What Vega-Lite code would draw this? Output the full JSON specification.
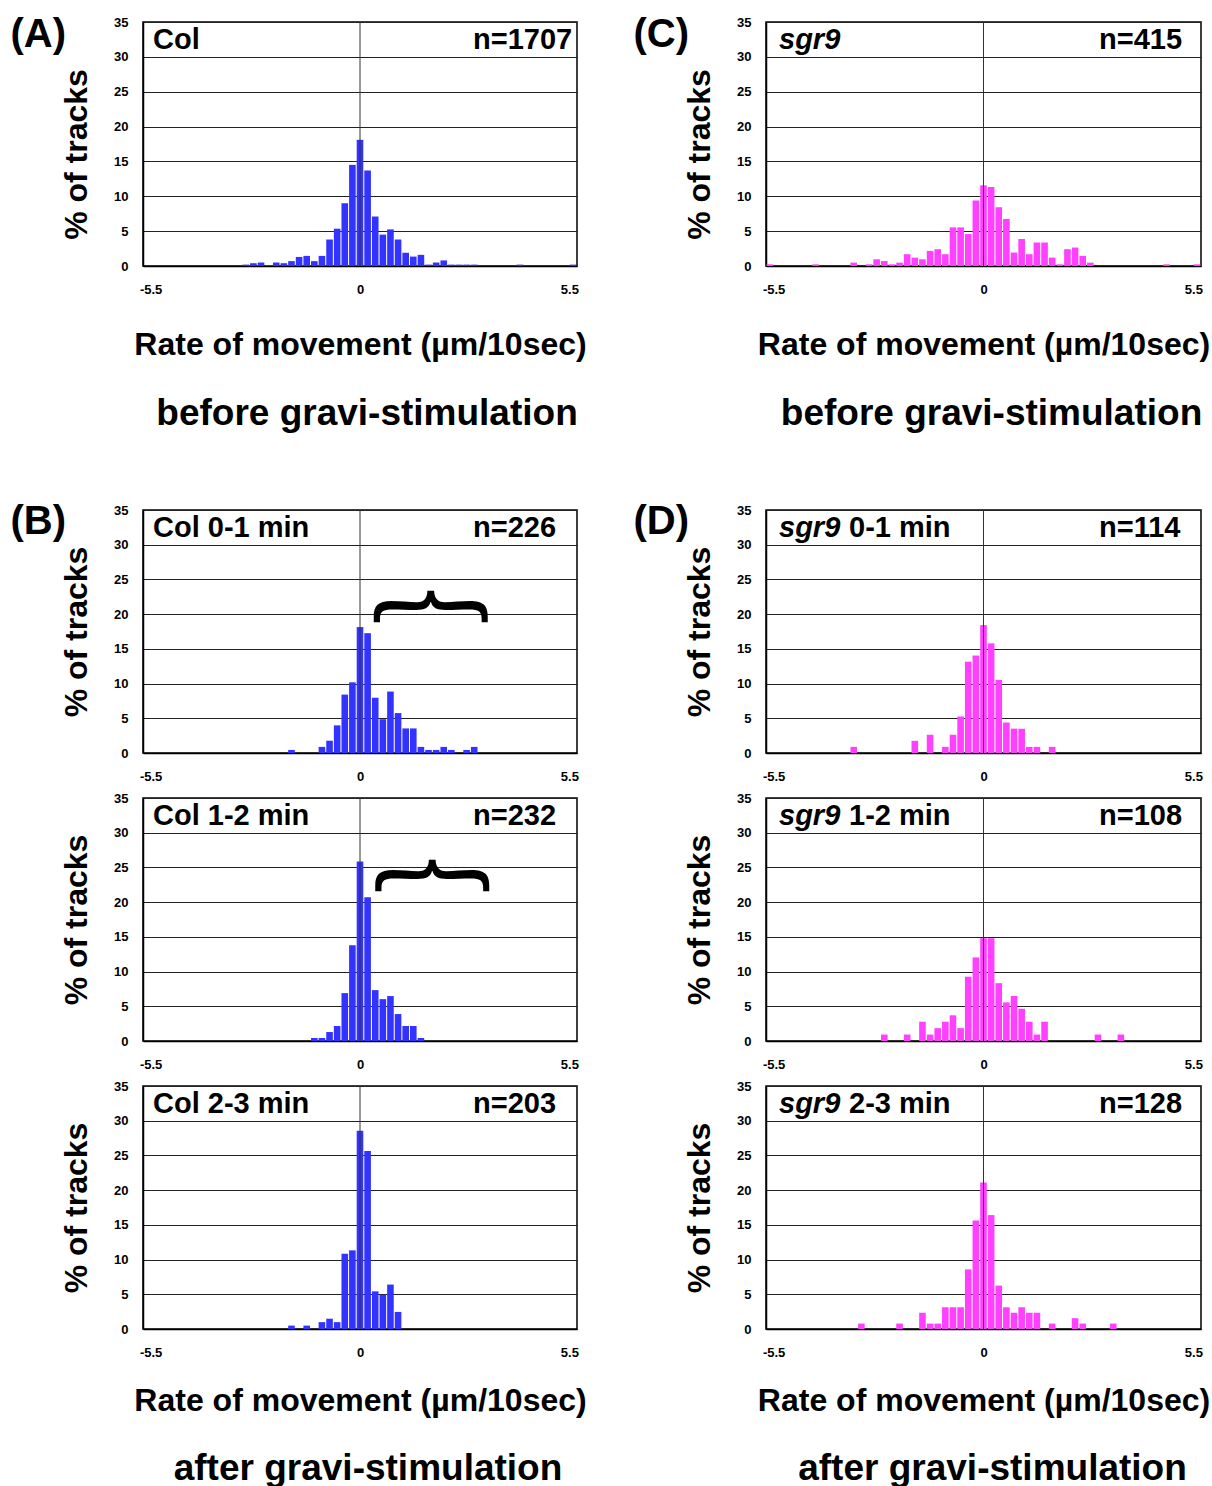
{
  "$schema": "https://vega.github.io/schema/vega-lite/v6.json",
  "padding": {"left": 9, "top": 14, "right": 5, "bottom": 5},
  "background": "white",
  "datasets": {
    "hist": [
      {"panel":"A","x":-3.0,"pct":0.2},{"panel":"A","x":-2.8,"pct":0.4},{"panel":"A","x":-2.6,"pct":0.5},{"panel":"A","x":-2.4,"pct":0.1},{"panel":"A","x":-2.2,"pct":0.5},{"panel":"A","x":-2.0,"pct":0.4},{"panel":"A","x":-1.8,"pct":0.7},{"panel":"A","x":-1.6,"pct":1.3},{"panel":"A","x":-1.4,"pct":1.45},{"panel":"A","x":-1.2,"pct":0.7},{"panel":"A","x":-1.0,"pct":1.45},{"panel":"A","x":-0.8,"pct":3.8},{"panel":"A","x":-0.6,"pct":5.35},{"panel":"A","x":-0.4,"pct":9.0},{"panel":"A","x":-0.2,"pct":14.5},{"panel":"A","x":0,"pct":18.1},{"panel":"A","x":0.2,"pct":13.7},{"panel":"A","x":0.4,"pct":7.1},{"panel":"A","x":0.6,"pct":4.5},{"panel":"A","x":0.8,"pct":5.25},{"panel":"A","x":1.0,"pct":3.8},{"panel":"A","x":1.2,"pct":1.9},{"panel":"A","x":1.4,"pct":1.35},{"panel":"A","x":1.6,"pct":1.6},{"panel":"A","x":1.8,"pct":0.2},{"panel":"A","x":2.0,"pct":0.5},{"panel":"A","x":2.2,"pct":0.8},{"panel":"A","x":2.4,"pct":0.2},{"panel":"A","x":2.6,"pct":0.2},{"panel":"A","x":2.8,"pct":0.2},{"panel":"A","x":3.0,"pct":0.2},{"panel":"A","x":4.2,"pct":0.2},{"panel":"A","x":5.6,"pct":0.2},
      {"panel":"C","x":-5.6,"pct":0.24},{"panel":"C","x":-4.4,"pct":0.24},{"panel":"C","x":-3.4,"pct":0.48},{"panel":"C","x":-3.0,"pct":0.24},{"panel":"C","x":-2.8,"pct":0.96},{"panel":"C","x":-2.6,"pct":0.72},{"panel":"C","x":-2.4,"pct":0.24},{"panel":"C","x":-2.2,"pct":0.48},{"panel":"C","x":-2.0,"pct":1.69},{"panel":"C","x":-1.8,"pct":1.2},{"panel":"C","x":-1.6,"pct":0.96},{"panel":"C","x":-1.4,"pct":2.17},{"panel":"C","x":-1.2,"pct":2.41},{"panel":"C","x":-1.0,"pct":1.69},{"panel":"C","x":-0.8,"pct":5.54},{"panel":"C","x":-0.6,"pct":5.54},{"panel":"C","x":-0.4,"pct":4.58},{"panel":"C","x":-0.2,"pct":9.4},{"panel":"C","x":0,"pct":11.57},{"panel":"C","x":0.2,"pct":11.33},{"panel":"C","x":0.4,"pct":8.43},{"panel":"C","x":0.6,"pct":6.75},{"panel":"C","x":0.8,"pct":1.93},{"panel":"C","x":1.0,"pct":3.86},{"panel":"C","x":1.2,"pct":1.69},{"panel":"C","x":1.4,"pct":3.37},{"panel":"C","x":1.6,"pct":3.37},{"panel":"C","x":1.8,"pct":1.2},{"panel":"C","x":2.0,"pct":0.24},{"panel":"C","x":2.2,"pct":2.41},{"panel":"C","x":2.4,"pct":2.65},{"panel":"C","x":2.6,"pct":1.45},{"panel":"C","x":2.8,"pct":0.48},{"panel":"C","x":4.8,"pct":0.24},{"panel":"C","x":5.6,"pct":0.24},
      {"panel":"B1","x":-1.8,"pct":0.44},{"panel":"B1","x":-1.0,"pct":0.88},{"panel":"B1","x":-0.8,"pct":1.77},{"panel":"B1","x":-0.6,"pct":3.98},{"panel":"B1","x":-0.4,"pct":8.41},{"panel":"B1","x":-0.2,"pct":10.18},{"panel":"B1","x":0,"pct":18.14},{"panel":"B1","x":0.2,"pct":17.26},{"panel":"B1","x":0.4,"pct":7.96},{"panel":"B1","x":0.6,"pct":4.87},{"panel":"B1","x":0.8,"pct":8.85},{"panel":"B1","x":1.0,"pct":5.75},{"panel":"B1","x":1.2,"pct":3.54},{"panel":"B1","x":1.4,"pct":3.54},{"panel":"B1","x":1.6,"pct":0.88},{"panel":"B1","x":1.8,"pct":0.44},{"panel":"B1","x":2.0,"pct":0.44},{"panel":"B1","x":2.2,"pct":0.88},{"panel":"B1","x":2.4,"pct":0.44},{"panel":"B1","x":2.8,"pct":0.44},{"panel":"B1","x":3.0,"pct":0.88},
      {"panel":"B2","x":-1.2,"pct":0.43},{"panel":"B2","x":-1.0,"pct":0.43},{"panel":"B2","x":-0.8,"pct":1.29},{"panel":"B2","x":-0.6,"pct":2.16},{"panel":"B2","x":-0.4,"pct":6.9},{"panel":"B2","x":-0.2,"pct":13.79},{"panel":"B2","x":0,"pct":25.86},{"panel":"B2","x":0.2,"pct":20.69},{"panel":"B2","x":0.4,"pct":7.33},{"panel":"B2","x":0.6,"pct":6.03},{"panel":"B2","x":0.8,"pct":6.47},{"panel":"B2","x":1.0,"pct":3.88},{"panel":"B2","x":1.2,"pct":2.16},{"panel":"B2","x":1.4,"pct":2.16},{"panel":"B2","x":1.6,"pct":0.43},
      {"panel":"B3","x":-1.8,"pct":0.49},{"panel":"B3","x":-1.4,"pct":0.49},{"panel":"B3","x":-1.0,"pct":0.99},{"panel":"B3","x":-0.8,"pct":1.48},{"panel":"B3","x":-0.6,"pct":0.99},{"panel":"B3","x":-0.4,"pct":10.84},{"panel":"B3","x":-0.2,"pct":11.33},{"panel":"B3","x":0,"pct":28.57},{"panel":"B3","x":0.2,"pct":25.62},{"panel":"B3","x":0.4,"pct":5.42},{"panel":"B3","x":0.6,"pct":4.93},{"panel":"B3","x":0.8,"pct":6.4},{"panel":"B3","x":1.0,"pct":2.46},
      {"panel":"D1","x":-3.4,"pct":0.88},{"panel":"D1","x":-1.8,"pct":1.75},{"panel":"D1","x":-1.4,"pct":2.63},{"panel":"D1","x":-1.0,"pct":0.88},{"panel":"D1","x":-0.8,"pct":2.63},{"panel":"D1","x":-0.6,"pct":5.26},{"panel":"D1","x":-0.4,"pct":13.16},{"panel":"D1","x":-0.2,"pct":14.04},{"panel":"D1","x":0,"pct":18.42},{"panel":"D1","x":0.2,"pct":15.79},{"panel":"D1","x":0.4,"pct":10.53},{"panel":"D1","x":0.6,"pct":4.39},{"panel":"D1","x":0.8,"pct":3.51},{"panel":"D1","x":1.0,"pct":3.51},{"panel":"D1","x":1.2,"pct":0.88},{"panel":"D1","x":1.4,"pct":0.88},{"panel":"D1","x":1.8,"pct":0.88},
      {"panel":"D2","x":-2.6,"pct":0.93},{"panel":"D2","x":-2.0,"pct":0.93},{"panel":"D2","x":-1.6,"pct":2.78},{"panel":"D2","x":-1.4,"pct":0.93},{"panel":"D2","x":-1.2,"pct":1.85},{"panel":"D2","x":-1.0,"pct":2.78},{"panel":"D2","x":-0.8,"pct":3.7},{"panel":"D2","x":-0.6,"pct":1.85},{"panel":"D2","x":-0.4,"pct":9.26},{"panel":"D2","x":-0.2,"pct":12.04},{"panel":"D2","x":0,"pct":14.81},{"panel":"D2","x":0.2,"pct":14.81},{"panel":"D2","x":0.4,"pct":8.33},{"panel":"D2","x":0.6,"pct":5.56},{"panel":"D2","x":0.8,"pct":6.48},{"panel":"D2","x":1.0,"pct":4.63},{"panel":"D2","x":1.2,"pct":2.78},{"panel":"D2","x":1.4,"pct":0.93},{"panel":"D2","x":1.6,"pct":2.78},{"panel":"D2","x":3.0,"pct":0.93},{"panel":"D2","x":3.6,"pct":0.93},
      {"panel":"D3","x":-3.2,"pct":0.78},{"panel":"D3","x":-2.2,"pct":0.78},{"panel":"D3","x":-1.6,"pct":2.34},{"panel":"D3","x":-1.4,"pct":0.78},{"panel":"D3","x":-1.2,"pct":0.78},{"panel":"D3","x":-1.0,"pct":3.13},{"panel":"D3","x":-0.8,"pct":3.13},{"panel":"D3","x":-0.6,"pct":3.13},{"panel":"D3","x":-0.4,"pct":8.59},{"panel":"D3","x":-0.2,"pct":15.63},{"panel":"D3","x":0,"pct":21.09},{"panel":"D3","x":0.2,"pct":16.41},{"panel":"D3","x":0.4,"pct":6.25},{"panel":"D3","x":0.6,"pct":3.13},{"panel":"D3","x":0.8,"pct":2.34},{"panel":"D3","x":1.0,"pct":3.13},{"panel":"D3","x":1.2,"pct":2.34},{"panel":"D3","x":1.4,"pct":2.34},{"panel":"D3","x":1.8,"pct":0.78},{"panel":"D3","x":2.4,"pct":1.56},{"panel":"D3","x":2.6,"pct":0.78},{"panel":"D3","x":3.4,"pct":0.78}
    ]
  },
  "columns": 2,
  "spacing": {"row": 45, "column": 189},
  "bounds": "flush",
  "concat": [
    {
      "width": 434, "height": 244,
      "title": {"text": "(A)", "orient": "top", "anchor": "start", "frame": "bounds", "fontSize": 40, "dx": -50, "offset": -39},
      "layer": [
        {"data": {"name": "hist"}, "transform": [{"filter": "datum.panel === 'A'"}],
         "mark": {"type": "bar", "size": 6.6, "color": "#3333ff"},
         "encoding": {
           "x": {"field": "x", "type": "quantitative", "scale": {"domain": [-5.7, 5.7], "nice": false, "zero": false, "padding": 0}, "axis": {"values": [-5.5, 0, 5.5], "format": ".2~f", "title": "Rate of movement (µm/10sec)", "titlePadding": 33}},
           "y": {"field": "pct", "type": "quantitative", "scale": {"domain": [0, 35], "nice": false, "padding": 0}, "axis": {"values": [0,5,10,15,20,25,30,35], "tickCount": 8, "title": "% of tracks", "titleY": 132}}
         }},
        {"data": {"values": [{}]}, "mark": {"type": "rule", "color": "#333333", "strokeWidth": 1}, "encoding": {"x": {"datum": 0}}},
        {"data": {"values": [{}]}, "mark": {"type": "text", "text": "Col", "align": "left", "baseline": "middle", "dx": 10, "dy": 18, "fontSize": 29, "fontWeight": "bold"}, "encoding": {"x": {"datum": -5.7}, "y": {"datum": 35}}},
        {"data": {"values": [{}]}, "mark": {"type": "text", "text": "n=1707", "align": "left", "baseline": "middle", "dx": 330, "dy": 18, "fontSize": 29, "fontWeight": "bold"}, "encoding": {"x": {"datum": -5.7}, "y": {"datum": 35}}}
      ]
    },
    {
      "width": 435, "height": 244,
      "title": {"text": "(C)", "orient": "top", "anchor": "start", "frame": "bounds", "fontSize": 40, "dx": -50, "offset": -39},
      "layer": [
        {"data": {"name": "hist"}, "transform": [{"filter": "datum.panel === 'C'"}],
         "mark": {"type": "bar", "size": 6.6, "color": "#ff40ff"},
         "encoding": {
           "x": {"field": "x", "type": "quantitative", "scale": {"domain": [-5.7, 5.7], "nice": false, "zero": false, "padding": 0}, "axis": {"values": [-5.5, 0, 5.5], "format": ".2~f", "title": "Rate of movement (µm/10sec)", "titlePadding": 33}},
           "y": {"field": "pct", "type": "quantitative", "scale": {"domain": [0, 35], "nice": false, "padding": 0}, "axis": {"values": [0,5,10,15,20,25,30,35], "tickCount": 8, "title": "% of tracks", "titleY": 132}}
         }},
        {"data": {"values": [{}]}, "mark": {"type": "rule", "color": "#333333", "strokeWidth": 1}, "encoding": {"x": {"datum": 0}}},
        {"data": {"values": [{}]}, "mark": {"type": "text", "text": "sgr9", "align": "left", "baseline": "middle", "dx": 13, "dy": 18, "fontSize": 29, "fontWeight": "bold", "fontStyle": "italic"}, "encoding": {"x": {"datum": -5.7}, "y": {"datum": 35}}},
        {"data": {"values": [{}]}, "mark": {"type": "text", "text": "n=415", "align": "left", "baseline": "middle", "dx": 333, "dy": 18, "fontSize": 29, "fontWeight": "bold"}, "encoding": {"x": {"datum": -5.7}, "y": {"datum": 35}}}
      ]
    },
    {
      "width": 434, "height": 154,
      "view": {"stroke": null, "fill": "transparent"},
      "title": {"text": "before gravi-stimulation", "orient": "top", "anchor": "middle", "frame": "group", "fontSize": 37, "offset": -122, "dx": 7},
      "data": {"values": [{}]},
      "mark": {"type": "text", "text": ""},
      "encoding": {}
    },
    {
      "width": 435, "height": 154,
      "view": {"stroke": null, "fill": "transparent"},
      "title": {"text": "before gravi-stimulation", "orient": "top", "anchor": "middle", "frame": "group", "fontSize": 37, "offset": -122, "dx": 8},
      "data": {"values": [{}]},
      "mark": {"type": "text", "text": ""},
      "encoding": {}
    },
    {
      "width": 434, "height": 243,
      "title": {"text": "(B)", "orient": "top", "anchor": "start", "frame": "bounds", "fontSize": 40, "dx": -50, "offset": -38},
      "layer": [
        {"data": {"name": "hist"}, "transform": [{"filter": "datum.panel === 'B1'"}],
         "mark": {"type": "bar", "size": 6.6, "color": "#3333ff"},
         "encoding": {
           "x": {"field": "x", "type": "quantitative", "scale": {"domain": [-5.7, 5.7], "nice": false, "zero": false, "padding": 0}, "axis": {"values": [-5.5, 0, 5.5], "format": ".2~f", "title": null}},
           "y": {"field": "pct", "type": "quantitative", "scale": {"domain": [0, 35], "nice": false, "padding": 0}, "axis": {"values": [0,5,10,15,20,25,30,35], "tickCount": 8, "title": "% of tracks"}}
         }},
        {"data": {"values": [{}]}, "mark": {"type": "rule", "color": "#333333", "strokeWidth": 1}, "encoding": {"x": {"datum": 0}}},
        {"data": {"values": [{}]}, "mark": {"type": "text", "text": "Col 0-1 min", "align": "left", "baseline": "middle", "dx": 10, "dy": 18, "fontSize": 29, "fontWeight": "bold"}, "encoding": {"x": {"datum": -5.7}, "y": {"datum": 35}}},
        {"data": {"values": [{}]}, "mark": {"type": "text", "text": "n=226", "align": "left", "baseline": "middle", "dx": 330, "dy": 18, "fontSize": 29, "fontWeight": "bold"}, "encoding": {"x": {"datum": -5.7}, "y": {"datum": 35}}},
        {"data": {"values": [{}]}, "mark": {"type": "text", "text": "︷", "align": "center", "baseline": "middle", "fontSize": 120, "font": "Noto Sans CJK JP"}, "encoding": {"x": {"datum": 1.86}, "y": {"datum": 25.5}}}
      ]
    },
    {
      "width": 435, "height": 243,
      "title": {"text": "(D)", "orient": "top", "anchor": "start", "frame": "bounds", "fontSize": 40, "dx": -50, "offset": -38},
      "layer": [
        {"data": {"name": "hist"}, "transform": [{"filter": "datum.panel === 'D1'"}],
         "mark": {"type": "bar", "size": 6.6, "color": "#ff40ff"},
         "encoding": {
           "x": {"field": "x", "type": "quantitative", "scale": {"domain": [-5.7, 5.7], "nice": false, "zero": false, "padding": 0}, "axis": {"values": [-5.5, 0, 5.5], "format": ".2~f", "title": null}},
           "y": {"field": "pct", "type": "quantitative", "scale": {"domain": [0, 35], "nice": false, "padding": 0}, "axis": {"values": [0,5,10,15,20,25,30,35], "tickCount": 8, "title": "% of tracks"}}
         }},
        {"data": {"values": [{}]}, "mark": {"type": "rule", "color": "#333333", "strokeWidth": 1}, "encoding": {"x": {"datum": 0}}},
        {"data": {"values": [{}]}, "mark": {"type": "text", "text": "sgr9", "align": "left", "baseline": "middle", "dx": 13, "dy": 18, "fontSize": 29, "fontWeight": "bold", "fontStyle": "italic"}, "encoding": {"x": {"datum": -5.7}, "y": {"datum": 35}}},
        {"data": {"values": [{}]}, "mark": {"type": "text", "text": "0-1 min", "align": "left", "baseline": "middle", "dx": 83, "dy": 18, "fontSize": 29, "fontWeight": "bold"}, "encoding": {"x": {"datum": -5.7}, "y": {"datum": 35}}},
        {"data": {"values": [{}]}, "mark": {"type": "text", "text": "n=114", "align": "left", "baseline": "middle", "dx": 333, "dy": 18, "fontSize": 29, "fontWeight": "bold"}, "encoding": {"x": {"datum": -5.7}, "y": {"datum": 35}}}
      ]
    },
    {
      "width": 434, "height": 243,
      "layer": [
        {"data": {"name": "hist"}, "transform": [{"filter": "datum.panel === 'B2'"}],
         "mark": {"type": "bar", "size": 6.6, "color": "#3333ff"},
         "encoding": {
           "x": {"field": "x", "type": "quantitative", "scale": {"domain": [-5.7, 5.7], "nice": false, "zero": false, "padding": 0}, "axis": {"values": [-5.5, 0, 5.5], "format": ".2~f", "title": null}},
           "y": {"field": "pct", "type": "quantitative", "scale": {"domain": [0, 35], "nice": false, "padding": 0}, "axis": {"values": [0,5,10,15,20,25,30,35], "tickCount": 8, "title": "% of tracks"}}
         }},
        {"data": {"values": [{}]}, "mark": {"type": "rule", "color": "#333333", "strokeWidth": 1}, "encoding": {"x": {"datum": 0}}},
        {"data": {"values": [{}]}, "mark": {"type": "text", "text": "Col 1-2 min", "align": "left", "baseline": "middle", "dx": 10, "dy": 18, "fontSize": 29, "fontWeight": "bold"}, "encoding": {"x": {"datum": -5.7}, "y": {"datum": 35}}},
        {"data": {"values": [{}]}, "mark": {"type": "text", "text": "n=232", "align": "left", "baseline": "middle", "dx": 330, "dy": 18, "fontSize": 29, "fontWeight": "bold"}, "encoding": {"x": {"datum": -5.7}, "y": {"datum": 35}}},
        {"data": {"values": [{}]}, "mark": {"type": "text", "text": "︷", "align": "center", "baseline": "middle", "fontSize": 120, "font": "Noto Sans CJK JP"}, "encoding": {"x": {"datum": 1.9}, "y": {"datum": 28.2}}}
      ]
    },
    {
      "width": 435, "height": 243,
      "layer": [
        {"data": {"name": "hist"}, "transform": [{"filter": "datum.panel === 'D2'"}],
         "mark": {"type": "bar", "size": 6.6, "color": "#ff40ff"},
         "encoding": {
           "x": {"field": "x", "type": "quantitative", "scale": {"domain": [-5.7, 5.7], "nice": false, "zero": false, "padding": 0}, "axis": {"values": [-5.5, 0, 5.5], "format": ".2~f", "title": null}},
           "y": {"field": "pct", "type": "quantitative", "scale": {"domain": [0, 35], "nice": false, "padding": 0}, "axis": {"values": [0,5,10,15,20,25,30,35], "tickCount": 8, "title": "% of tracks"}}
         }},
        {"data": {"values": [{}]}, "mark": {"type": "rule", "color": "#333333", "strokeWidth": 1}, "encoding": {"x": {"datum": 0}}},
        {"data": {"values": [{}]}, "mark": {"type": "text", "text": "sgr9", "align": "left", "baseline": "middle", "dx": 13, "dy": 18, "fontSize": 29, "fontWeight": "bold", "fontStyle": "italic"}, "encoding": {"x": {"datum": -5.7}, "y": {"datum": 35}}},
        {"data": {"values": [{}]}, "mark": {"type": "text", "text": "1-2 min", "align": "left", "baseline": "middle", "dx": 83, "dy": 18, "fontSize": 29, "fontWeight": "bold"}, "encoding": {"x": {"datum": -5.7}, "y": {"datum": 35}}},
        {"data": {"values": [{}]}, "mark": {"type": "text", "text": "n=108", "align": "left", "baseline": "middle", "dx": 333, "dy": 18, "fontSize": 29, "fontWeight": "bold"}, "encoding": {"x": {"datum": -5.7}, "y": {"datum": 35}}}
      ]
    },
    {
      "width": 434, "height": 243,
      "title": {"text": "after gravi-stimulation", "orient": "bottom", "anchor": "middle", "frame": "group", "fontSize": 37, "offset": 35, "dx": 8},
      "layer": [
        {"data": {"name": "hist"}, "transform": [{"filter": "datum.panel === 'B3'"}],
         "mark": {"type": "bar", "size": 6.6, "color": "#3333ff"},
         "encoding": {
           "x": {"field": "x", "type": "quantitative", "scale": {"domain": [-5.7, 5.7], "nice": false, "zero": false, "padding": 0}, "axis": {"values": [-5.5, 0, 5.5], "format": ".2~f", "title": "Rate of movement (µm/10sec)", "titlePadding": 26}},
           "y": {"field": "pct", "type": "quantitative", "scale": {"domain": [0, 35], "nice": false, "padding": 0}, "axis": {"values": [0,5,10,15,20,25,30,35], "tickCount": 8, "title": "% of tracks"}}
         }},
        {"data": {"values": [{}]}, "mark": {"type": "rule", "color": "#333333", "strokeWidth": 1}, "encoding": {"x": {"datum": 0}}},
        {"data": {"values": [{}]}, "mark": {"type": "text", "text": "Col 2-3 min", "align": "left", "baseline": "middle", "dx": 10, "dy": 18, "fontSize": 29, "fontWeight": "bold"}, "encoding": {"x": {"datum": -5.7}, "y": {"datum": 35}}},
        {"data": {"values": [{}]}, "mark": {"type": "text", "text": "n=203", "align": "left", "baseline": "middle", "dx": 330, "dy": 18, "fontSize": 29, "fontWeight": "bold"}, "encoding": {"x": {"datum": -5.7}, "y": {"datum": 35}}}
      ]
    },
    {
      "width": 435, "height": 243,
      "title": {"text": "after gravi-stimulation", "orient": "bottom", "anchor": "middle", "frame": "group", "fontSize": 37, "offset": 35, "dx": 9},
      "layer": [
        {"data": {"name": "hist"}, "transform": [{"filter": "datum.panel === 'D3'"}],
         "mark": {"type": "bar", "size": 6.6, "color": "#ff40ff"},
         "encoding": {
           "x": {"field": "x", "type": "quantitative", "scale": {"domain": [-5.7, 5.7], "nice": false, "zero": false, "padding": 0}, "axis": {"values": [-5.5, 0, 5.5], "format": ".2~f", "title": "Rate of movement (µm/10sec)", "titlePadding": 26}},
           "y": {"field": "pct", "type": "quantitative", "scale": {"domain": [0, 35], "nice": false, "padding": 0}, "axis": {"values": [0,5,10,15,20,25,30,35], "tickCount": 8, "title": "% of tracks"}}
         }},
        {"data": {"values": [{}]}, "mark": {"type": "rule", "color": "#333333", "strokeWidth": 1}, "encoding": {"x": {"datum": 0}}},
        {"data": {"values": [{}]}, "mark": {"type": "text", "text": "sgr9", "align": "left", "baseline": "middle", "dx": 13, "dy": 18, "fontSize": 29, "fontWeight": "bold", "fontStyle": "italic"}, "encoding": {"x": {"datum": -5.7}, "y": {"datum": 35}}},
        {"data": {"values": [{}]}, "mark": {"type": "text", "text": "2-3 min", "align": "left", "baseline": "middle", "dx": 83, "dy": 18, "fontSize": 29, "fontWeight": "bold"}, "encoding": {"x": {"datum": -5.7}, "y": {"datum": 35}}},
        {"data": {"values": [{}]}, "mark": {"type": "text", "text": "n=128", "align": "left", "baseline": "middle", "dx": 333, "dy": 18, "fontSize": 29, "fontWeight": "bold"}, "encoding": {"x": {"datum": -5.7}, "y": {"datum": 35}}}
      ]
    }
  ],
  "config": {
    "font": "Liberation Sans",
    "view": {"stroke": "black", "strokeWidth": 1.5},
    "text": {"color": "black", "font": "Liberation Sans"},
    "title": {"font": "Liberation Sans", "fontWeight": "bold", "color": "black"},
    "axis": {"labelFont": "Liberation Sans", "labelFontWeight": "bold", "labelFontSize": 13, "labelColor": "black", "ticks": false, "tickSize": 0, "domainColor": "black", "domainWidth": 1.5, "titleFont": "Liberation Sans", "titleFontWeight": "bold", "titleColor": "black", "labelFlush": false, "labelOverlap": false},
    "axisX": {"grid": false, "labelPadding": 17, "titleFontSize": 32, "labelExpr": "replace(datum.label, '−', '-')"},
    "axisY": {"grid": true, "gridColor": "#222222", "gridWidth": 1, "gridOpacity": 1, "labelPadding": 15, "titleFontSize": 32, "titlePadding": 20}
  }
}
